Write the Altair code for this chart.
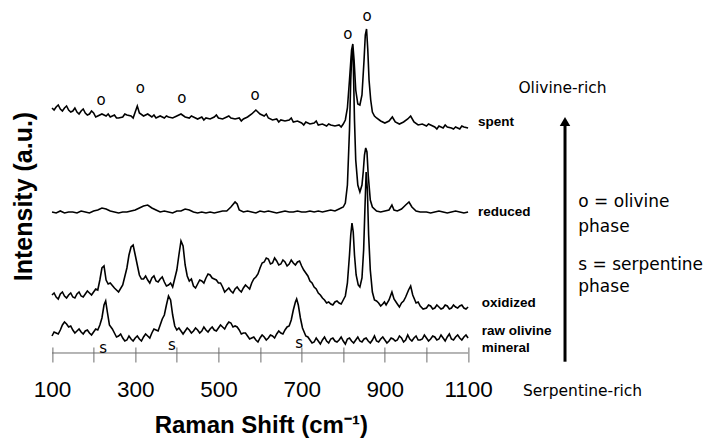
import altair as alt
import pandas as pd

# ---------------- data (Raman shift in cm-1, intensity in a.u. above each trace's own baseline) ----------------
spent_x = [100,110,120,130,140,150,160,170,180,190,200,210,220,230,240,250,260,270,280,290,300,305,
           310,320,330,340,350,360,370,380,390,400,410,420,430,440,450,460,470,480,490,500,
           510,520,530,540,550,560,570,580,590,600,610,620,630,640,650,660,670,680,690,700,
           710,720,730,740,750,760,770,780,790,800,
           805,810,815,820,823,826,830,835,840,845,850,853,856,859,862,866,870,875,880,890,
           900,910,918,925,935,945,955,962,970,980,990,
           1000,1010,1020,1030,1040,1050,1060,1070,1080,1090,1100]
spent_y = [22,23,21,22,20,19,18,19,17,16,17,14,16,14,13,15,12,13,15,14,18,24,
           17,14,16,13,12,14,12,13,12,14,16,13,12,13,11,13,12,11,13,12,
           11,13,12,11,12,11,13,16,20,16,14,12,10,11,10,9,10,8,9,7,
           8,6,7,5,6,4,5,4,5,6,
           10,22,50,80,86,70,40,26,25,35,70,95,101,80,50,30,18,14,12,9,
           7,9,13,8,6,8,11,14,8,5,6,
           4,5,3,4,2,3,2,3,1,3,2]
spent_mid_x = [105,115,125,135,145,155,165,175,185,195,205,235,255,275,295,345,375,435,465,495,
               525,555,615,645,675,705,735,765,795,1005,1025,1045,1065,1085]
spent_mid_y = [20,25,19,24,18,22,16,21,15,19,13,16,12,16,12,15,14,14,10,15,
               14,9,16,8,12,5,9,6,3,6,1,5,1,4]

reduced_x = [100,110,120,130,140,150,160,170,180,190,200,210,220,230,240,250,260,270,280,290,
             300,310,320,330,340,350,360,370,380,390,400,410,420,430,440,450,460,470,480,490,
             500,510,520,530,540,545,550,560,570,580,590,600,610,620,630,640,650,660,670,680,690,
             700,710,720,730,740,750,760,770,780,790,800,
             805,810,815,818,821,824,827,830,835,840,845,848,851,854,857,860,865,870,880,890,
             900,910,917,922,930,940,950,958,965,975,985,
             1000,1010,1020,1030,1040,1050,1060,1070,1080,1090,1100]
reduced_y = [2,1,3,1,2,2,1,3,2,1,3,4,6,5,3,2,1,2,2,3,
             4,6,8,9,6,4,2,3,2,1,3,3,5,4,2,1,2,1,2,1,
             2,3,3,7,12,10,4,2,3,2,1,3,2,3,2,1,2,3,2,2,3,
             2,2,3,2,3,2,3,4,3,5,7,
             11,29,84,134,164,154,94,54,29,22,29,42,59,66,62,39,14,7,3,2,
             3,4,9,4,3,5,9,12,7,3,2,
             2,1,2,3,2,1,2,3,2,1,2]

oxidized_x = [100,110,120,130,140,150,160,170,180,190,200,210,
              215,220,225,230,235,240,
              250,260,270,280,285,290,295,300,305,310,
              320,330,340,350,360,370,380,390,
              400,405,410,415,420,425,430,
              440,450,460,470,480,490,500,510,520,530,540,550,560,570,580,590,600,610,620,630,
              640,650,660,670,680,690,700,710,720,730,740,750,760,770,780,790,800,
              805,810,815,818,821,824,827,831,836,840,845,849,852,855,858,861,865,870,875,885,
              895,903,910,917,922,930,940,950,957,962,967,975,985,
              1000,1010,1020,1030,1040,1050,1060,1070,1080,1090,1100]
oxidized_y = [15,13,16,14,15,13,16,14,16,17,18,20,
              30,42,44,30,26,27,
              22,18,25,42,55,63,65,55,45,35,
              31,30,32,29,31,28,25,23,
              40,55,69,64,45,34,29,
              24,26,29,32,35,31,27,23,20,19,21,20,22,23,27,33,42,48,51,47,
              49,46,48,46,47,48,44,37,29,23,17,12,7,6,8,7,10,
              14,27,55,75,87,78,55,35,25,23,32,60,100,138,120,75,40,18,10,7,
              6,5,10,18,11,6,7,13,20,24,15,7,4,
              2,4,2,3,2,4,2,3,4,2,3]
oxidized_mid_x = [105,115,125,135,145,155,165,175,185,195,205,
                  315,325,335,345,355,365,375,385,
                  435,445,455,465,475,485,495,505,515,525,535,545,555,565,575,585,595,605,615,625,
                  635,645,655,665,675,685,695,705,715,725,735,745,755,765,775,785,795,
                  880,890,899,935,945,980,992,
                  1005,1015,1025,1035,1045,1055,1065,1075,1085,1095]
oxidized_mid_y = [17,11,18,12,17,12,18,13,19,15,21,
                  31,34,27,34,28,33,24,27,
                  31,22,30,27,36,32,30,27,18,22,17,23,18,25,21,31,36,47,52,46,
                  52,45,50,44,50,45,49,40,34,27,21,15,10,8,5,9,6,
                  9,4,8,3,9,8,1,
                  5,1,5,1,5,1,5,2,5,1]

raw_x = [100,110,120,130,135,140,150,160,170,180,190,200,210,
         215,220,225,229,233,238,
         250,260,270,280,290,300,310,320,330,340,350,360,
         370,375,380,385,390,395,
         400,410,420,430,440,450,460,470,480,490,500,510,520,530,540,550,560,570,580,590,
         600,610,620,630,640,650,660,
         670,675,680,685,688,692,697,702,
         710,720,730,740,750,760,770,780,790,800,810,820,830,840,850,860,870,880,890,900,
         910,920,930,940,950,960,970,980,990,1000,1010,1020,1030,1040,1050,1060,1070,1080,1090,1100]
raw_y = [7,10,13,21,19,16,13,12,11,12,10,11,13,
         18,25,38,42,31,18,
         10,7,5,3,4,5,4,6,7,10,13,18,
         28,38,47,43,28,17,
         13,12,12,13,12,13,12,13,14,13,15,16,18,20,17,13,10,7,5,3,
         5,6,5,7,9,10,13,
         17,23,33,41,44,38,25,15,
         7,3,1,2,3,2,4,2,3,2,4,2,3,2,4,2,3,2,4,3,
         2,4,3,5,3,4,5,3,4,5,4,6,4,5,6,4,6,5,6,5]
raw_mid_x = [105,115,125,145,155,165,175,185,195,205,
             245,255,265,275,285,295,305,315,325,335,345,355,365,
             405,415,425,435,445,455,465,475,485,495,505,515,525,535,545,555,565,575,585,595,
             605,615,625,635,645,655,665,
             715,725,735,745,755,765,775,785,795,805,815,825,835,845,855,865,875,885,895,905,
             915,925,935,945,955,965,975,985,995,1005,1015,1025,1035,1045,1055,1065,1075,1085,1095]
raw_mid_y = [11,9,18,17,10,14,9,13,8,14,
             14,6,9,2,7,2,7,2,9,5,14,12,24,
             15,9,15,10,15,10,16,11,16,12,18,14,21,16,16,9,10,4,6,1,
             8,3,8,5,12,9,16,
             6,0,5,-1,6,0,5,1,6,-1,5,0,6,1,5,0,7,1,6,0,
             5,2,7,1,8,2,7,3,8,2,7,3,8,2,9,3,8,3,8]

series = {
    "spent": (spent_x + spent_mid_x, spent_y + spent_mid_y),
    "reduced": (reduced_x, reduced_y),
    "oxidized": (oxidized_x + oxidized_mid_x, oxidized_y + oxidized_mid_y),
    "raw olivine mineral": (raw_x + raw_mid_x, raw_y + raw_mid_y),
}
# vertical stacking offset of each trace (layout)
offsets = {"spent": 217, "reduced": 133, "oxidized": 37, "raw olivine mineral": 4}

ticks = list(range(100, 1101, 100))

# peak markers
olivine_x = [218, 312, 412, 588, 811, 857]
olivine_y = [247, 259, 249, 252, 313, 331]
serp_x = [223, 388, 694]
serp_y = [-1.3, 2, 3.7]

# ---------------- build tables ----------------
rows = []
for name, (xs_, ys_) in series.items():
    assert len(xs_) == len(ys_), name
    for a, b in zip(xs_, ys_):
        rows.append({"x": a, "y": b + offsets[name], "s": name})
df = pd.DataFrame(rows).sort_values(["s", "x"])

SANS = "Liberation Sans"
TAHOMA = "DejaVu Sans"

xs = alt.Scale(domain=[0, 1668], nice=False, zero=False)
ys = alt.Scale(domain=[0, 339], nice=False, zero=False)

x_axis = alt.Axis(values=ticks, format="d",
                  labelExpr="datum.value % 200 == 100 ? datum.label : ''",
                  labelOverlap=False, labelFlush=False,
                  tickSize=15, tickColor="#6b6b6b", tickWidth=1,
                  domain=False, grid=False,
                  labelFont=SANS, labelFontSize=22.5, labelColor="black", labelPadding=16.5,
                  title="Raman Shift (cm⁻¹)", titleFont=SANS, titleFontSize=24,
                  titleFontWeight="bold", titleColor="black",
                  titleX=250.4, titleY=86, titleAlign="center", titleBaseline="alphabetic")
y_axis = alt.Axis(labels=False, ticks=False, domain=False, grid=False,
                  title="Intensity (a.u.)", titleFont=SANS, titleFontSize=25,
                  titleFontWeight="bold", titleColor="black", titleAngle=270,
                  titleX=13.6, titleY=188, titleAlign="center", titleBaseline="middle")

X = alt.X("x:Q", scale=xs, axis=x_axis)
Y = alt.Y("y:Q", scale=ys, axis=y_axis)

lines = alt.Chart(df).mark_line(color="black", strokeWidth=1.6).encode(
    x=X, y=Y, detail="s:N")

axis_line = alt.Chart(pd.DataFrame({"x": [100], "x2": [1100], "y": [-6]})).mark_rule(
    color="#6b6b6b", strokeWidth=1).encode(x=X, x2="x2:Q", y=Y)

o_df = pd.DataFrame({"x": olivine_x, "y": olivine_y, "t": ["o"] * len(olivine_x)})
s_df = pd.DataFrame({"x": serp_x, "y": serp_y, "t": ["s"] * len(serp_x)})
markers = alt.Chart(pd.concat([o_df, s_df])).mark_text(
    font=TAHOMA, fontSize=15, color="black", baseline="middle", align="center").encode(
    x=X, y=Y, text="t:N")

lab_df = pd.DataFrame({
    "x": [1124, 1124, 1133, 1133, 1133],
    "y": [225.3, 135.3, 44.3, 16.3, -1.3],
    "t": ["spent", "reduced", "oxidized", "raw olivine", "mineral"]})
labels = alt.Chart(lab_df).mark_text(
    font=SANS, fontSize=13.5, fontWeight="bold", color="black", baseline="middle", align="left").encode(
    x=X, y=Y, text="t:N")

legend_df = pd.DataFrame({
    "x": [1365, 1365, 1365, 1365],
    "y": [145.3, 120.3, 82, 60.3],
    "t": ["o = olivine", "phase", "s = serpentine", "phase"]})
legend_text = alt.Chart(legend_df).mark_text(
    font=TAHOMA, fontSize=17, color="black", baseline="middle", align="left").encode(
    x=X, y=Y, text="t:N")

olivine_rich = alt.Chart(pd.DataFrame({"x": [1327], "y": [258.7], "t": ["Olivine-rich"]})).mark_text(
    font=TAHOMA, fontSize=15.5, color="black", baseline="middle", align="center").encode(
    x=X, y=Y, text="t:N")
serp_rich = alt.Chart(pd.DataFrame({"x": [1232], "y": [-43.7], "t": ["Serpentine-rich"]})).mark_text(
    font=TAHOMA, fontSize=15.5, color="black", baseline="middle", align="left").encode(
    x=X, y=Y, text="t:N")

arrow_line = alt.Chart(pd.DataFrame({"x": [1333], "y": [-14.7], "y2": [223]})).mark_rule(
    color="black", strokeWidth=3).encode(x=X, y=Y, y2="y2:Q")
arrow_head = alt.Chart(pd.DataFrame({"x": [1333], "y": [225.5]})).mark_point(
    shape="triangle-up", filled=True, size=110, color="black", opacity=1).encode(x=X, y=Y)

chart = alt.layer(
    lines, axis_line, markers, labels, legend_text, olivine_rich, serp_rich, arrow_line, arrow_head
).properties(
    width=694, height=339,
    padding={"left": 2.4, "top": 0, "right": 0, "bottom": 92},
    autosize=alt.AutoSizeParams(type="none"),
    background="white",
).configure_view(stroke=None)

chart.save("out.html", embed_options={"renderer": "svg", "actions": False})
